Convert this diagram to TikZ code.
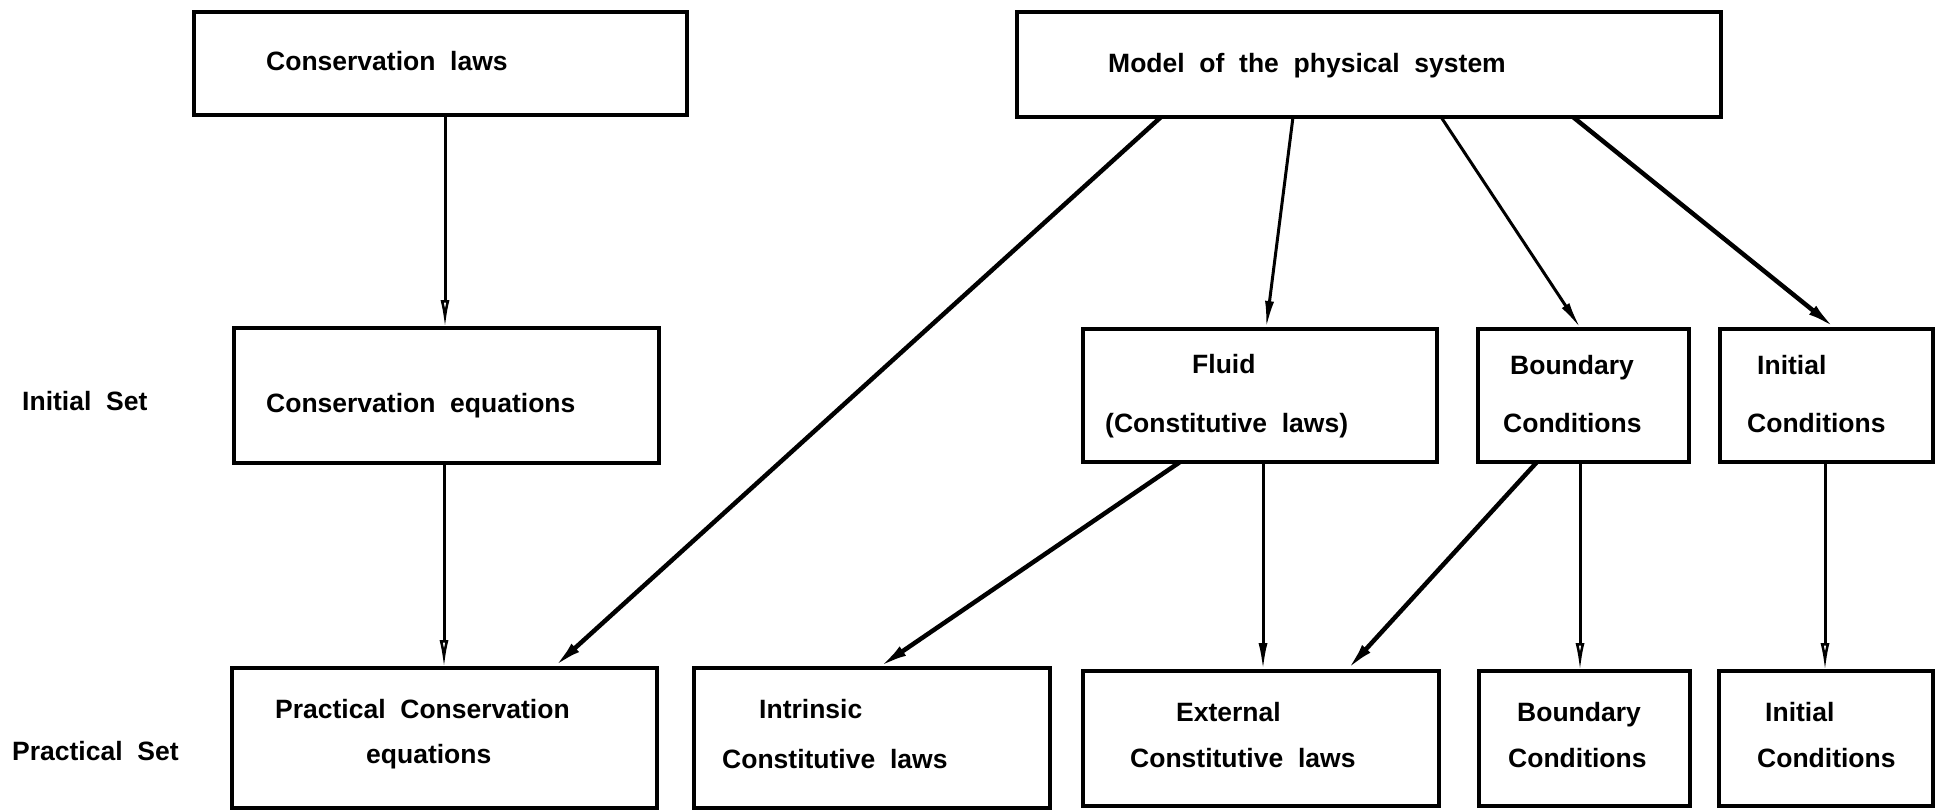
\documentclass[tikz,border=0pt]{standalone}
\usepackage{fontspec}
\setmainfont{Liberation Sans}[WordSpace=2]
\usetikzlibrary{arrows.meta}
\begin{document}
\begin{tikzpicture}[x=1pt,y=-1pt,
  box/.style={draw,line width=4.5pt,outer sep=0pt,inner sep=0pt},
  lbl/.style={anchor=base west,inner sep=0pt,font=\fontsize{26.5}{30}\selectfont\bfseries},
  thinarr/.style={line width=3pt,-{Latex[length=28pt,width=9pt]}},
  thickarr/.style={line width=4.5pt,-{Latex[length=30pt,width=11pt]}},
  openarr/.style={line width=3pt,-{Latex[open,length=28pt,width=9pt,line width=2.5pt]}}]
\useasboundingbox (0,0) rectangle (1946,811);
% boxes
\node[box,minimum width=493,minimum height=103] (cl) at (440.5,63.5) {};
\node[box,minimum width=704,minimum height=105] (mp) at (1369,64.5) {};
\node[box,minimum width=425,minimum height=135] (ce) at (446.5,395.5) {};
\node[box,minimum width=354,minimum height=133] (fl) at (1260,395.5) {};
\node[box,minimum width=211,minimum height=133] (bi) at (1583.5,395.5) {};
\node[box,minimum width=213,minimum height=133] (ii) at (1826.5,395.5) {};
\node[box,minimum width=425,minimum height=140] (pc) at (444.5,738) {};
\node[box,minimum width=356,minimum height=140] (ic) at (872,738) {};
\node[box,minimum width=356,minimum height=135] (ec) at (1261,738.5) {};
\node[box,minimum width=211,minimum height=135] (bp) at (1584.5,738.5) {};
\node[box,minimum width=214,minimum height=135] (ip) at (1826,738.5) {};
% texts
\node[lbl] (t1) at (266,70) {Conservation laws};
\node[lbl] (t2) at (1108,72) {Model of the physical system};
\node[lbl] (t3) at (266,412) {Conservation equations};
\node[lbl] (t4) at (22,410) {Initial Set};
\node[lbl] (t5) at (1192,373) {Fluid};
\node[lbl] (t6) at (1105,432) {(Constitutive laws)};
\node[lbl] (t7) at (1510,374) {Boundary};
\node[lbl] (t8) at (1503,432) {Conditions};
\node[lbl] (t9) at (1757,374) {Initial};
\node[lbl] (t10) at (1747,432) {Conditions};
\node[lbl] (t11) at (275,718) {Practical Conservation};
\node[lbl] (t12) at (366,763) {equations};
\node[lbl] (t13) at (759,718) {Intrinsic};
\node[lbl] (t14) at (722,768) {Constitutive laws};
\node[lbl] (t15) at (1176,721) {External};
\node[lbl] (t16) at (1130,767) {Constitutive laws};
\node[lbl] (t17) at (1517,721) {Boundary};
\node[lbl] (t18) at (1508,767) {Conditions};
\node[lbl] (t19) at (1765,721) {Initial};
\node[lbl] (t20) at (1757,767) {Conditions};
\node[lbl] (t21) at (12,760) {Practical Set};
% connectors
\draw[openarr] ([xshift=251]cl.south west) -- ([xshift=211]ce.north west);
\draw[openarr] ([xshift=210]ce.south west) -- ([xshift=212]pc.north west);
\draw[thickarr] ([xshift=144]mp.south west) -- ([xshift=321]pc.north west);
\draw[thinarr] ([xshift=276]mp.south west) -- ([xshift=183]fl.north west);
\draw[thinarr] ([xshift=424]mp.south west) -- ([xshift=103]bi.north west);
\draw[thickarr] ([xshift=556]mp.south west) -- ([xshift=116]ii.north west);
\draw[thickarr] ([xshift=97]fl.south west) -- ([xshift=184]ic.north west);
\draw[thinarr] ([xshift=180]fl.south west) -- ([xshift=180]ec.north west);
\draw[thickarr] ([xshift=59]bi.south west) -- ([xshift=263]ec.north west);
\draw[openarr] ([xshift=102]bi.south west) -- ([xshift=101]bp.north west);
\draw[openarr] ([xshift=105]ii.south west) -- ([xshift=106]ip.north west);
\end{tikzpicture}
\end{document}
